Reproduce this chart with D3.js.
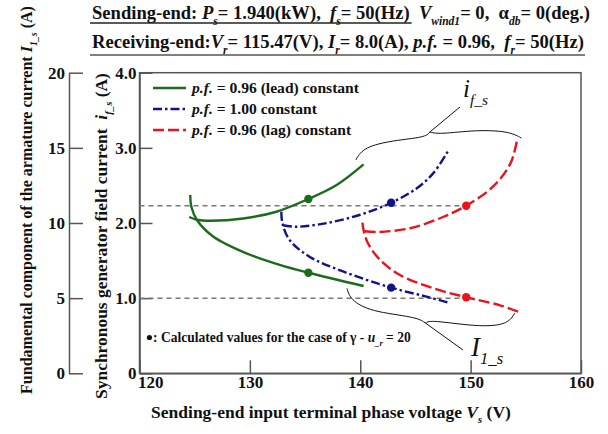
<!DOCTYPE html>
<html>
<head>
<meta charset="utf-8">
<script src="https://cdn.jsdelivr.net/npm/d3@7"></script>
<style>
body { margin: 0; background: #fff; }
</style>
</head>
<body>
<div id="graph"></div>
<script>
/*global d3 */

var voltage_ticks = [120, 130, 140, 150, 160];
var current_ticks = [0, 5, 10, 15, 20];
var field_ticks = [0, 1, 2, 3, 4];
var field_tick_labels = ["0", "1.0", "2.0", "3.0", "4.0"];

var legend_labels = [" = 0.96 (lead) constant", " = 1.00 constant", " = 0.96 (lag) constant"];

// field current i_f_s (A) against V_s (V)
var if_lead = [[124.5, 2.08], [125.3, 2.04], [126.4, 2.03], [129.4, 2.06], [132.4, 2.15], [135.3, 2.32], [137.9, 2.51], [140.3, 2.78]];
var if_unity = [[133.0, 1.97], [134.2, 1.95], [137.0, 2.00], [140.0, 2.11], [142.8, 2.27], [145.1, 2.46], [146.6, 2.66], [148.0, 2.97]];
var if_lag = [[140.4, 1.89], [141.5, 1.88], [144.5, 1.93], [147.5, 2.08], [149.6, 2.23], [152.0, 2.48], [153.6, 2.79], [154.2, 3.10]];

// fundamental armature current I_1_s (A) against V_s (V)
var i1_lead = [[124.6, 11.86], [124.7, 11.08], [125.2, 10.2], [126.7, 9.09], [129.7, 7.98], [132.7, 7.21], [135.3, 6.69], [140.3, 5.81]];
var i1_unity = [[132.85, 10.75], [132.95, 9.98], [133.6, 8.87], [135.4, 7.76], [138.5, 6.76], [142.8, 5.70], [146.0, 5.10], [148.0, 4.70]];
var i1_lag = [[140.2, 10.02], [140.3, 9.53], [140.7, 8.65], [141.8, 7.54], [143.6, 6.54], [146.6, 5.66], [149.6, 5.06], [152.6, 4.54], [154.3, 4.10]];

// calculated values (gamma - u_r = 20)
var dot_v = [135.3, 142.8, 149.6];
var dot_if = [2.32, 2.27, 2.23];
var dot_i1 = [6.69, 5.70, 5.06];

// guide lines, in field current units, drawn up to the lag dot
var guide_if = [2.23, 1.0];

// braces, in (V, field current) units
var brace_if_left = [[139.6, 2.84], [140.3, 3.01], [143.0, 3.10], [145.9, 3.14], [146.3, 3.21]];
var brace_if_right = [[146.3, 3.21], [147.2, 3.18], [150.5, 3.24], [153.5, 3.22], [154.6, 3.13]];
var brace_i1_left = [[138.8, 1.13], [139.1, 0.98], [140.9, 0.82], [145.1, 0.75], [145.9, 0.67]];
var brace_i1_right = [[145.9, 0.67], [146.4, 0.71], [150.5, 0.62], [153.3, 0.64], [154.0, 0.80]];

var POLICE = "Liberation Serif";

function remplir(t, parts, size) {
    "use strict";
    var shift = 0;
    t.selectAll("tspan").remove();
    t.style("font-size", size + "px");
    parts.forEach(function (p) {
        var s = t.append("tspan").text(p[0]).style("font-family", POLICE),
            sub = p[1].indexOf("s") >= 0,
            target = sub ? size * 0.3 : 0;
        if (target !== shift) {
            s.attr("dy", target - shift);
            shift = target;
        }
        if (p[1].indexOf("i") >= 0) { s.style("font-style", "italic"); }
        if (sub) { s.style("font-size", (size * 0.62) + "px"); }
    });
}

// rich text, resized so that it spans "largeur" pixels when asked
function texte(parent, parts, size, largeur, gras) {
    "use strict";
    var t = parent.append("text")
        .style("font-family", POLICE)
        .style("font-weight", gras === false ? "normal" : "bold")
        .style("white-space", "pre")
        .attr("fill", "#111");
    remplir(t, parts, size);
    if (largeur) {
        remplir(t, parts, size * largeur / t.node().getComputedTextLength());
    }
    return t;
}

function dessin() {
    "use strict";
    var left = 139.5, right = 581, top = 72.7, bottom = 373.3,
        couleurs = ["#1c6b1c", "#12128a", "#e8141c"],
        tirets = [null, "9 3 2.5 3", "11 4"],
        if_series = [if_lead, if_unity, if_lag],
        i1_series = [i1_lead, i1_unity, i1_lag],

        svg = d3.select("#graph").append("svg")
            .attr("width", 608)
            .attr("height", 434),

        x = d3.scaleLinear().domain([120, 160]).range([left, right]),
        yI = d3.scaleLinear().domain([0, 20]).range([bottom, top]),
        yF = d3.scaleLinear().domain([0, 4]).range([bottom, top]),

        ligneF = d3.line()
            .x(function (d) { return x(d[0]); })
            .y(function (d) { return yF(d[1]); })
            .curve(d3.curveCatmullRom),
        ligneI = d3.line()
            .x(function (d) { return x(d[0]); })
            .y(function (d) { return yI(d[1]); })
            .curve(d3.curveCatmullRom),
        ax, t, leg, entete1, fin1;

    // header
    entete1 = [["Sending-end: ", ""], ["P", "i"], ["s", "si"], ["= 1.940(kW),  ", ""], ["f", "i"], ["s", "si"],
        ["= 50(Hz)", ""], ["  ", ""], ["V", "i"], ["wind1", "si"], ["= 0,  \u03b1", ""], ["db", "si"], ["= 0(deg.)", ""]];
    t = texte(svg, entete1, 18, 498).attr("x", 92).attr("y", 19);
    fin1 = entete1.slice(0, 7).map(function (p) { return p[0]; }).join("").length;
    fin1 = t.node().getEndPositionOfChar(fin1 - 1).x;
    t = texte(svg, [["Receiving-end:", ""], ["V", "i"], ["r", "si"], ["= 115.47(V), ", ""], ["I", "i"], ["r", "si"],
        ["= 8.0(A), ", ""], ["p.f.", "i"], [" = 0.96,  ", ""], ["f", "i"], ["r", "si"], ["= 50(Hz)", ""]], 18, 492)
        .attr("x", 92).attr("y", 48);
    svg.append("line").attr("x1", 90).attr("x2", fin1 + 2).attr("y1", 23).attr("y2", 23)
        .attr("stroke", "#222").attr("stroke-width", 1.3);
    svg.append("line").attr("x1", 90).attr("x2", 585).attr("y1", 55).attr("y2", 55)
        .attr("stroke", "#555").attr("stroke-width", 1.5);

    // frame
    svg.append("rect")
        .attr("x", left).attr("y", top)
        .attr("width", right - left).attr("height", bottom - top)
        .attr("fill", "none").attr("stroke", "#555").attr("stroke-width", 1.5);

    // axes
    ax = svg.append("g")
        .attr("transform", "translate(0," + bottom + ")")
        .call(d3.axisBottom(x).tickValues(voltage_ticks).tickSize(-13).tickSizeOuter(0).tickPadding(3));
    ax.selectAll("text").filter(function (d) { return d === 120; }).attr("text-anchor", "start").attr("x", -2);

    ax = svg.append("g")
        .attr("transform", "translate(" + left + ",0)")
        .call(d3.axisLeft(yF).tickValues(field_ticks).tickSize(-13).tickSizeOuter(0).tickPadding(3)
            .tickFormat(function (d, i) { return field_tick_labels[i]; }));

    ax = svg.append("g")
        .attr("transform", "translate(69,0)")
        .call(d3.axisLeft(yI).tickValues(current_ticks).tickSize(-14).tickSizeOuter(0).tickPadding(4));

    svg.selectAll(".tick text")
        .style("font-size", "17px")
        .style("font-family", POLICE)
        .style("font-weight", "bold")
        .attr("fill", "#111");
    svg.selectAll(".tick line, .domain").attr("stroke", "#555").attr("stroke-width", 1.5);

    // axis titles
    texte(svg, [["Sending-end input terminal phase voltage ", ""], ["V", "i"], ["s", "si"], [" (V)", ""]], 17, 360)
        .attr("x", 331).attr("y", 418).attr("text-anchor", "middle");

    texte(svg, [["Fundamental component of the armature current ", ""], ["I", "i"], ["1_s", "si"], [" (A)", ""]], 17, 388)
        .attr("transform", "translate(32,200) rotate(-90)").attr("text-anchor", "middle");

    texte(svg, [["Synchronous generator field current  ", ""], ["i", "i"], ["f_s", "si"], [" (A)", ""]], 17, 326)
        .attr("transform", "translate(107,236) rotate(-90)").attr("text-anchor", "middle");

    // guide lines
    svg.selectAll(".guide")
        .data(guide_if)
        .enter()
        .append("line")
        .attr("x1", x(120))
        .attr("x2", x(dot_v[2]))
        .attr("y1", function (d) { return yF(d); })
        .attr("y2", function (d) { return yF(d); })
        .attr("stroke", "#777")
        .attr("stroke-width", 1.5)
        .attr("stroke-dasharray", "5 4");

    // curves
    [0, 1, 2].forEach(function (k) {
        svg.append("path")
            .datum(if_series[k])
            .attr("fill", "none")
            .attr("stroke", couleurs[k])
            .attr("stroke-width", 2.4)
            .attr("stroke-dasharray", tirets[k])
            .attr("d", ligneF);
        svg.append("path")
            .datum(i1_series[k])
            .attr("fill", "none")
            .attr("stroke", couleurs[k])
            .attr("stroke-width", 2.4)
            .attr("stroke-dasharray", tirets[k])
            .attr("d", ligneI);
        svg.append("circle")
            .attr("cx", x(dot_v[k])).attr("cy", yF(dot_if[k])).attr("r", 4.2)
            .attr("fill", couleurs[k]);
        svg.append("circle")
            .attr("cx", x(dot_v[k])).attr("cy", yI(dot_i1[k])).attr("r", 4.2)
            .attr("fill", couleurs[k]);
    });

    // braces and their labels
    [brace_if_left, brace_if_right, brace_i1_left, brace_i1_right].forEach(function (b) {
        svg.append("path")
            .datum(b)
            .attr("fill", "none")
            .attr("stroke", "#111")
            .attr("stroke-width", 1)
            .attr("d", ligneF.curve(d3.curveBasis));
    });
    svg.append("line")
        .attr("x1", x(146.3)).attr("y1", yF(3.21)).attr("x2", 460).attr("y2", 107)
        .attr("stroke", "#111").attr("stroke-width", 1);
    svg.append("line")
        .attr("x1", x(145.9)).attr("y1", yF(0.67)).attr("x2", 463).attr("y2", 350)
        .attr("stroke", "#111").attr("stroke-width", 1);

    texte(svg, [["i", "i"], ["f_s", "si"]], 25, null, false).attr("x", 463).attr("y", 97);
    texte(svg, [["I", "i"], ["1_s", "si"]], 27, null, false).attr("x", 471).attr("y", 356);

    // legend
    leg = svg.selectAll(".leg")
        .data(legend_labels)
        .enter()
        .append("g")
        .attr("transform", function (d, i) { return "translate(153," + (88 + i * 21) + ")"; });
    leg.append("line")
        .attr("x1", 0).attr("x2", 33).attr("y1", 0).attr("y2", 0)
        .attr("stroke", function (d, i) { return couleurs[i]; })
        .attr("stroke-width", 2.4)
        .attr("stroke-dasharray", function (d, i) { return tirets[i]; });
    leg.each(function (d) {
        texte(d3.select(this), [["p.f.", "i"], [d, ""]], 15.6).attr("x", 39).attr("y", 5);
    });

    // footnote
    svg.append("circle").attr("cx", x(120.9)).attr("cy", 337.5).attr("r", 2.6).attr("fill", "#111");
    texte(svg, [[": Calculated values for the case of \u03b3 - ", ""], ["u", "i"], ["_r", "si"], [" = 20", ""]], 13, 258)
        .attr("x", 153).attr("y", 342);
}

dessin();
</script>
</body>
</html>
